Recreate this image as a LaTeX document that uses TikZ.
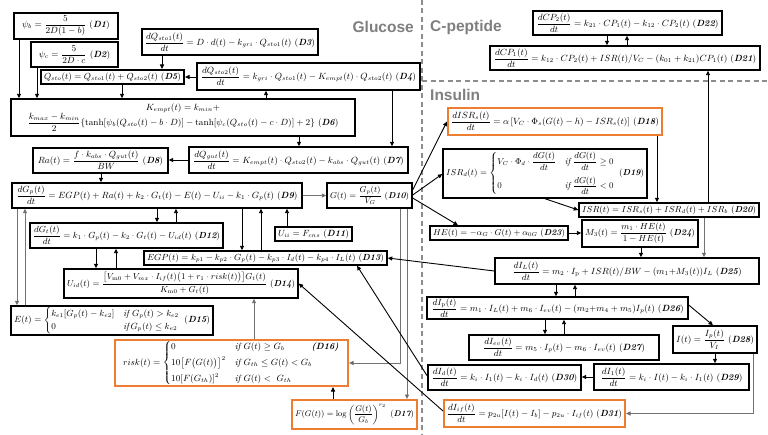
\documentclass[tikz,border=0pt]{standalone}
\usepackage{amsmath,amssymb}
\usepackage{graphicx}
\usepackage{fontspec}
\newfontfamily\hfont{Liberation Sans}
\usetikzlibrary{arrows.meta}
\definecolor{orng}{RGB}{237,125,49}
\definecolor{hgray}{RGB}{127,127,127}
\newsavebox\eqsave
\newcommand\fiteq[3]{\sbox\eqsave{#3}\pgfmathsetmacro\eqr{min(1,(#1)/(\the\wd\eqsave),(#2)/(\the\dimexpr\ht\eqsave+\dp\eqsave\relax))}\scalebox{\eqr}{\usebox\eqsave}}
\newcommand\lbl[1]{\ (\text{\bfseries\itshape D#1})}
\newcommand\bx[7][]{%
  \pgfmathsetmacro\bw{#5-#3}\pgfmathsetmacro\bh{#6-#4}%
  \node[eqnode,#1,minimum width=\bw pt,minimum height=\bh pt] (#2) at ({(#3+#5)/2},{(#4+#6)/2}) {\fiteq{\bw pt-6pt}{\bh pt-1.5pt}{$\displaystyle #7$}};}
\begin{document}
\begin{tikzpicture}[x=1pt,y=-1pt,font=\fontsize{9}{10.5}\selectfont,
  eqnode/.style={draw=black,line width=1.4pt,inner sep=0pt,fill=white},
  obox/.style={draw=orng,line width=2pt},
  arr/.style={-{Triangle[length=4.5pt,width=4pt]},line width=0.9pt,black},
  garr/.style={arr,draw=black!55,-{Triangle[length=4.5pt,width=4pt,fill=black!70]}},
  head/.style={font={\hfont\bfseries\fontsize{15.5}{17}\selectfont},text=hgray,inner sep=0pt},
  sepline/.style={draw=black!45,line width=1.3pt,dash pattern=on 5pt off 3.5pt}]
\useasboundingbox (0,0) rectangle (768,435);
\fill[white] (0,0) rectangle (768,435);
% separators
\coordinate (vt) at (422,0); \coordinate (vb) at (422,435);
\coordinate (hl) at (422,81); \coordinate (hr) at (768,81);
\draw[sepline] (vt) -- (vb);
\draw[sepline] (hl) -- (hr);
\node[head,anchor=east] (hG) at (414,27) {Glucose};
\node[head,anchor=west] (hC) at (430,27) {C-peptide};
\node[head,anchor=west] (hI) at (430,95) {Insulin};
% boxes
\bx{D1}{14}{13}{118}{39}{\psi_b=\dfrac{5}{2D(1-b)}\lbl{1}}
\bx{D2}{31}{42}{118}{67}{\psi_c=\dfrac{5}{2D\cdot c}\lbl{2}}
\bx{D3}{142}{29}{318}{55}{\dfrac{dQ_{sto1}(t)}{dt}=D\cdot d(t)-k_{gri}\cdot Q_{sto1}(t)\lbl{3}}
\bx[line width=2pt]{D5}{41}{70}{184}{84}{Q_{sto}(t)=Q_{sto1}(t)+Q_{sto2}(t)\lbl{5}}
\bx{D4}{197}{63}{420}{90}{\dfrac{dQ_{sto2}(t)}{dt}=k_{gri}\cdot Q_{sto1}(t)-K_{empt}(t)\cdot Q_{sto2}(t)\lbl{4}}
\bx{D6}{11}{99}{355}{136}{\begin{array}{c}K_{empt}(t)=k_{min}+\\ \dfrac{k_{max}-k_{min}}{2}\{\tanh[\psi_b(Q_{sto}(t)-b\cdot D)]-\tanh[\psi_c(Q_{sto}(t)-c\cdot D)]+2\}\lbl{6}\end{array}}
\bx{D7}{189}{147}{408}{173}{\dfrac{dQ_{gut}(t)}{dt}=K_{empt}(t)\cdot Q_{sto2}(t)-k_{abs}\cdot Q_{gut}(t)\lbl{7}}
\bx{D8}{33}{148}{168}{173}{Ra(t)=\dfrac{f\cdot k_{abs}\cdot Q_{gut}(t)}{BW}\lbl{8}}
\bx{D9}{12}{183}{302}{208}{\dfrac{dG_p(t)}{dt}=EGP(t)+Ra(t)+k_2\cdot G_t(t)-E(t)-U_{ii}-k_1\cdot G_p(t)\lbl{9}}
\bx{D10}{327}{183}{412}{208}{G(t)=\dfrac{G_p(t)}{V_G}\lbl{10}}
\bx{D11}{275}{227}{352}{241}{U_{ii}=F_{cns}\lbl{11}}
\bx{D12}{30}{223}{223}{248}{\dfrac{dG_t(t)}{dt}=k_1\cdot G_p(t)-k_2\cdot G_t(t)-U_{id}(t)\lbl{12}}
\bx{D13}{144}{251}{387}{265}{EGP(t)=k_{p1}-k_{p2}\cdot G_p(t)-k_{p3}\cdot I_d(t)-k_{p4}\cdot I_L(t)\lbl{13}}
\bx{D14}{64}{269}{298}{298}{U_{id}(t)=\dfrac{\bigl[V_{\mathrm{m0}}+V_{mx}\cdot I_{if}(t)\bigl(1+r_1\cdot risk(t)\bigr)\bigr]G_t(t)}{K_{\mathrm{m0}}+G_t(t)}\lbl{14}}
\bx{D15}{11}{306}{213}{335}{E(t)=\begin{cases}k_{e1}[G_p(t)-k_{e2}] & \mathit{if}\ G_p(t)>k_{e2}\\[1pt] 0 & \mathit{if}\,G_p(t)\le k_{e2}\end{cases}\lbl{15}}
\bx[obox]{D16}{115}{340}{348}{386}{risk(t)=\begin{cases}0 & \mathit{if}\ G(t)\ge G_b\qquad\quad\text{\bfseries\itshape (D16)}\\[3pt] 10\bigl[F\bigl(G(t)\bigr)\bigr]^2 & \mathit{if}\ G_{th}\le G(t)<G_b\\[3pt] 10[F(G_{th})]^2 & \mathit{if}\ G(t)<\ G_{th}\end{cases}}
\bx[obox]{D17}{292}{400}{417}{429}{F(G(t))=\log\left(\dfrac{G(t)}{G_b}\right)^{r_2}\lbl{17}}
\bx[obox]{D18}{448}{108}{662}{135}{\dfrac{dISR_s(t)}{dt}=\alpha\,[V_C\cdot\Phi_s(G(t)-h)-ISR_s(t)]\lbl{18}}
\bx{D19}{443}{149}{647}{198}{ISR_d(t)=\begin{cases}V_C\cdot\Phi_d\cdot\dfrac{dG(t)}{dt} & \mathit{if}\ \dfrac{dG(t)}{dt}\ge 0\\[9pt] 0 & \mathit{if}\ \dfrac{dG(t)}{dt}<0\end{cases}\lbl{19}}
\bx{D20}{579}{203}{759}{217}{ISR(t)=ISR_s(t)+ISR_d(t)+ISR_b\lbl{20}}
\bx{D21}{490}{46}{760}{70}{\dfrac{dCP_1(t)}{dt}=k_{12}\cdot CP_2(t)+ISR(t)/V_C-(k_{01}+k_{21})CP_1(t)\lbl{21}}
\bx{D22}{533}{11}{722}{35}{\dfrac{dCP_2(t)}{dt}=k_{21}\cdot CP_1(t)-k_{12}\cdot CP_2(t)\lbl{22}}
\bx{D23}{430}{226}{568}{240}{HE(t)=-\alpha_G\cdot G(t)+\alpha_{0G}\lbl{23}}
\bx{D24}{582}{220}{698}{247}{M_3(t)=\dfrac{m_1\cdot HE(t)}{1-HE(t)}\lbl{24}}
\bx{D25}{495}{258}{759}{284}{\dfrac{dI_L(t)}{dt}=m_2\cdot I_{\mathrm p}+ISR(t)/BW-(m_1{+}M_3(t))I_L\lbl{25}}
\bx{D26}{427}{297}{688}{319}{\dfrac{dI_{\mathrm p}(t)}{dt}=m_1\cdot I_L(t)+m_6\cdot I_{ev}(t)-(m_2{+}m_4+m_5)I_p(t)\lbl{26}}
\bx{D27}{469}{335}{659}{360}{\dfrac{dI_{ev}(t)}{dt}=m_5\cdot I_p(t)-m_6\cdot I_{ev}(t)\lbl{27}}
\bx{D28}{673}{326}{757}{353}{I(t)=\dfrac{I_p(t)}{V_I}\lbl{28}}
\bx{D29}{594}{364}{749}{390}{\dfrac{dI_1(t)}{dt}=k_i\cdot I(t)-k_i\cdot I_1(t)\lbl{29}}
\bx{D30}{428}{365}{581}{390}{\dfrac{dI_d(t)}{dt}=k_i\cdot I_1(t)-k_i\cdot I_d(t)\lbl{30}}
\bx[obox]{D31}{444}{400}{625}{427}{\dfrac{dI_{if}(t)}{dt}=p_{2u}[I(t)-I_b]-p_{2u}\cdot I_{if}(t)\lbl{31}}
% connectors - glucose
\draw[arr] (D1.south -| 19,0) -- (D6.north -| 19,0);
\draw[arr] (D2.south -| 37,0) -- (D6.north -| 37,0);
\draw[arr] (D5.south -| 122,0) -- (D6.north -| 122,0);
\draw[arr] (D3.south -| 162,0) -- (D5.north -| 162,0);
\draw[arr] (D4.west |- D5.east) -- (D5.east);
\draw[arr] (D6.north -| 266,0) -- (D4.south -| 266,0);
\draw[arr] (D6.south -| 299,0) -- (D7.north -| 299,0);
\draw[arr] (D4.south -| 392,0) -- (D7.north -| 392,0);
\draw[arr] (D7.west) -- (D8.east |- D7.west);
\draw[arr] (D8.south -| 101,0) -- (D9.north -| 101,0);
\draw[garr] (D9.east) -- (D10.west);
\draw[arr] (D9.south -| 157,0) -- (D12.north -| 157,0);
\draw[arr] (D12.north -| 176,0) -- (D9.south -| 176,0);
\draw[arr] (D9.south -| 242,0) -- (D13.north -| 242,0);
\draw[arr] (D13.north -| 261,0) -- (D9.south -| 261,0);
\draw[arr] (D11.north -| 287,0) -- (D9.south -| 287,0);
\draw[arr] (D12.south -| 96,0) -- (D14.north -| 96,0);
\draw[arr] (D14.north -| 116,0) -- (D12.south -| 116,0);
\draw[garr] (D9.south -| 17,0) -- (D15.north -| 17,0);
\draw[garr] (D15.north -| 25,0) -- (D9.south -| 25,0);
\draw[garr] (D16.north -| 254,0) -- (D14.south -| 254,0);
\draw[arr] (D17.north -| 333,0) -- (D16.south -| 333,0);
\draw[garr] (D10.south -| 400,0) |- (D16.east |- 0,363);
\draw[garr] (D10.south -| 407,0) -- (D17.north -| 407,0);
% glucose -> insulin
\draw[arr] (D10.east |- 0,190) -- (D18.west);
\draw[arr] (D10.east |- 0,195) -- (D19.west |- 0,174);
\draw[arr] (D10.east |- 0,198) -- (D23.north -| 458,0);
% insulin / c-peptide
\draw[arr] (D18.south -| 657,0) -- (D20.north -| 657,0);
\draw[arr] (D19.south -| 545,0) -- (D20.west);
\draw[arr] (D20.north -| 708,0) -- (D21.south -| 708,0);
\draw[garr] (D20.south -| 704,0) -- (D25.north -| 704,0);
\draw[arr] (D23.east) -- (D24.west |- D23.east);
\draw[arr] (D24.south -| 641,0) -- (D25.north -| 641,0);
\draw[arr] (D22.south -| 607,0) -- (D21.north -| 607,0);
\draw[arr] (D21.north -| 627,0) -- (D22.south -| 627,0);
\draw[arr] (D25.west |- 0,271) -- (D13.east);
\draw[arr] (D25.south -| 556,0) -- (D26.north -| 556,0);
\draw[arr] (D26.north -| 575,0) -- (D25.south -| 575,0);
\draw[arr] (D26.south -| 545,0) -- (D27.north -| 545,0);
\draw[arr] (D27.north -| 564,0) -- (D26.south -| 564,0);
\draw[arr] (D26.east |- 0,305) -- (D28.north -| 713,0);
\draw[arr] (D28.south -| 715,0) -- (D29.north -| 715,0);
\draw[arr] (D29.west) -- (D30.east |- D29.west);
\draw[garr] (D28.south -| 753,0) |- (D31.east);
\draw[arr] (D30.west |- 0,376) -- (D13.south -| 357,0);
\draw[arr] (D31.west |- 0,411) -- (D14.east);
\end{tikzpicture}
\end{document}
